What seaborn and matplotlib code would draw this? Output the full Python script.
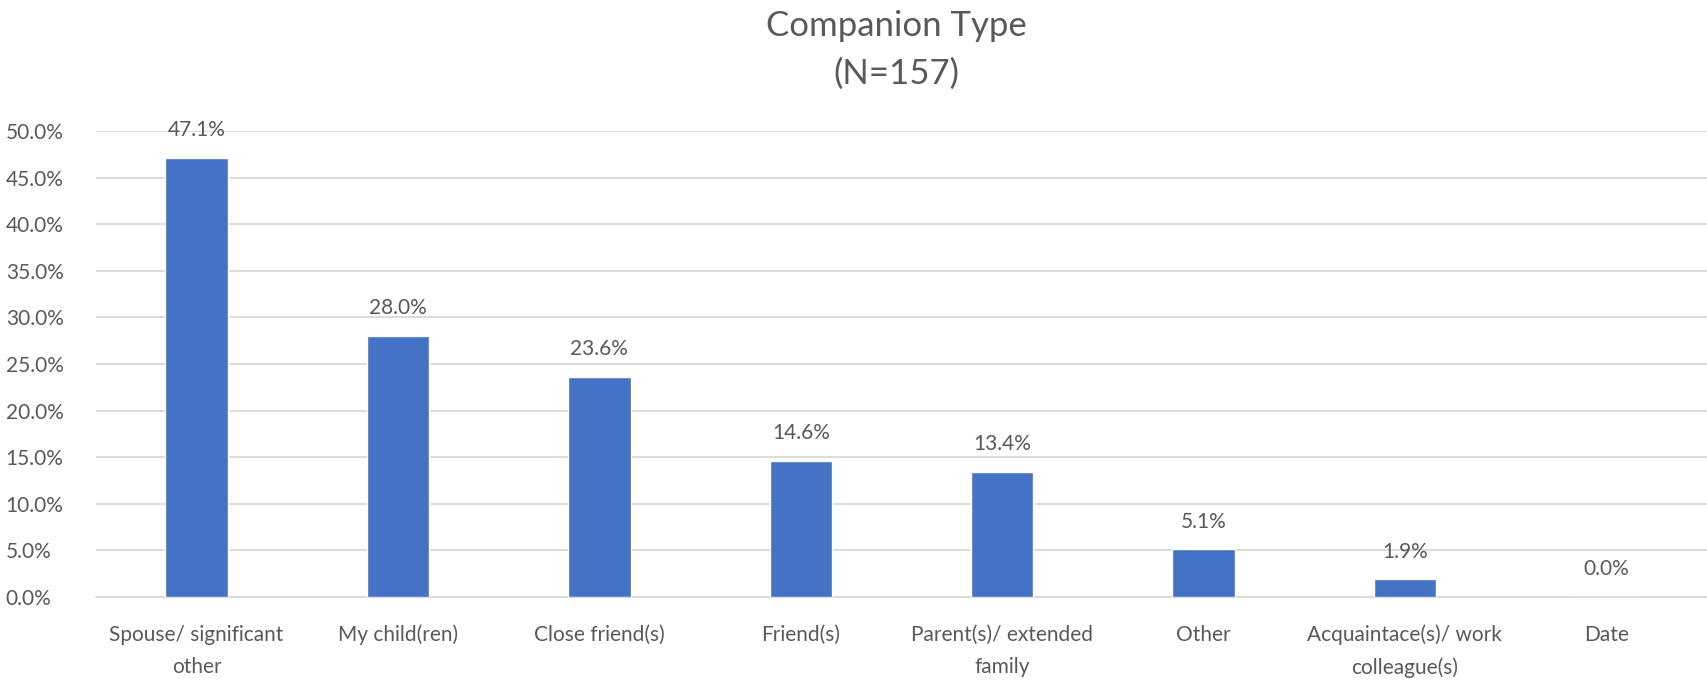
import matplotlib
matplotlib.use("Agg")
import matplotlib.pyplot as plt
import seaborn as sns
import pandas as pd

categories = ["Spouse/ significant\nother", "My child(ren)", "Close friend(s)", "Friend(s)",
              "Parent(s)/ extended\nfamily", "Other", "Acquaintace(s)/ work\ncolleague(s)", "Date"]
shares = [47.1, 28.0, 23.6, 14.6, 13.4, 5.1, 1.9, 0.0]
yticks = [0, 5, 10, 15, 20, 25, 30, 35, 40, 45, 50]

sns.set_theme(style="white")
plt.rcParams["font.family"] = ["Lato", "DejaVu Sans"]
text_color = "#595959"

df = pd.DataFrame({"category": categories, "share": shares})

fig = plt.figure(figsize=(17.08, 6.81), dpi=100)
ax = fig.add_axes([0.0562, 0.1233, 0.9432, 0.6843])

sns.barplot(data=df, x="category", y="share", color="#4472C4", width=0.31,
            saturation=1, ax=ax, zorder=3)

for i, v in enumerate(shares):
    ax.text(i, v + 1.9, f"{v:.1f}%", ha="center", va="bottom",
            fontsize=15, color=text_color)

ax.set_ylim(0, 50)
ax.set_yticks(yticks)
ax.set_yticklabels([f"{t:.1f}%" for t in yticks])
ax.yaxis.grid(True, color="#d9d9d9", linewidth=1.3, zorder=0)
ax.set_axisbelow(True)
for side in ["left", "right", "top"]:
    ax.spines[side].set_visible(False)
ax.spines["bottom"].set_color("#d9d9d9")
ax.spines["bottom"].set_linewidth(1.3)
ax.set_xlabel("")
ax.set_ylabel("")
ax.tick_params(axis="y", labelsize=15, colors=text_color, length=0, pad=65)
ax.tick_params(axis="x", labelsize=15, colors=text_color, length=0, pad=20)
for lbl in ax.get_yticklabels():
    lbl.set_horizontalalignment("left")
for lbl in ax.get_xticklabels():
    lbl.set_linespacing(1.75)
ax.set_xlim(-0.5, len(categories) - 0.5)

fig.text(0.525, 0.985, "Companion Type", ha="center", va="top", fontsize=25, color=text_color)
fig.text(0.525, 0.915, "(N=157)", ha="center", va="top", fontsize=25, color=text_color)

fig.savefig("out.png", dpi=100)
